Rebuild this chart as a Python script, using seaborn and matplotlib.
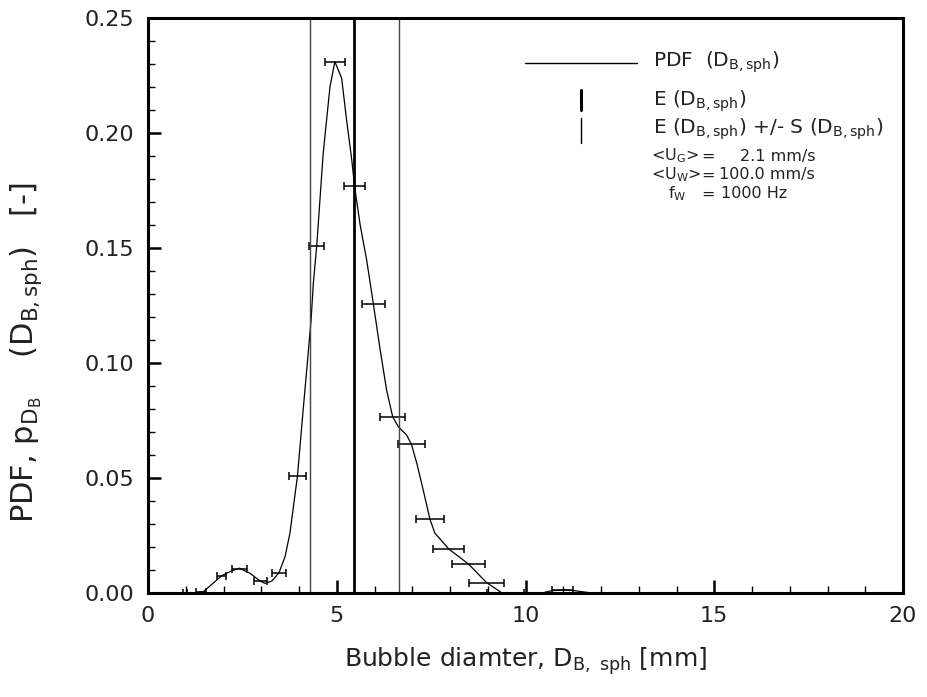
import matplotlib
matplotlib.use("Agg")
import matplotlib.pyplot as plt
import seaborn as sns
import pandas as pd

# ---- data ----
curve_x = [0.0, 1.20, 1.47, 1.95, 2.20, 2.42, 2.70, 2.97, 3.10, 3.28, 3.47, 3.63, 3.76,
           3.96, 4.11, 4.22, 4.32, 4.38, 4.47, 4.64, 4.82, 4.95, 5.13, 5.26, 5.40,
           5.47, 5.62, 5.79, 5.97, 6.15, 6.32, 6.48, 6.63, 6.85, 6.98, 7.12, 7.29,
           7.47, 7.60, 7.97, 8.49, 8.97, 9.37, 10.43, 10.70, 10.98, 11.30, 11.75]
curve_y = [0.0, 0.0, 0.0006, 0.0075, 0.0095, 0.0108, 0.0086, 0.0052, 0.0042, 0.0052,
           0.0088, 0.0158, 0.026, 0.051, 0.0796, 0.0999, 0.1187, 0.1347, 0.151, 0.191,
           0.220, 0.231, 0.2238, 0.2057, 0.188, 0.177, 0.160, 0.145, 0.1257, 0.1057,
           0.0883, 0.0767, 0.0723, 0.0687, 0.0646, 0.0564, 0.0448, 0.032, 0.026,
           0.0191, 0.0126, 0.0045, 0.0001, 0.0, 0.0010, 0.0013, 0.0010, 0.0]

bin_x = [0.97, 1.40, 1.95, 2.42, 2.97, 3.47, 3.96, 4.47, 4.95, 5.47, 5.97, 6.48,
         6.98, 7.47, 7.97, 8.49, 8.97, 9.47, 10.98]
bin_y = [0.0, 0.0004, 0.0075, 0.0103, 0.0052, 0.0088, 0.051, 0.151, 0.231, 0.177,
         0.1257, 0.0767, 0.0646, 0.032, 0.0191, 0.0126, 0.0045, 0.0, 0.0013]
bin_hw = [0.05, 0.13, 0.12, 0.20, 0.17, 0.19, 0.22, 0.20, 0.26, 0.27, 0.31, 0.33,
          0.36, 0.375, 0.41, 0.43, 0.46, 0.49, 0.28]

mean_d = 5.47
std_lo = 4.30
std_hi = 6.65

x_ticks = [0, 5, 10, 15, 20]
y_ticks = [0.00, 0.05, 0.10, 0.15, 0.20, 0.25]
y_tick_labels = ["0.00", "0.05", "0.10", "0.15", "0.20", "0.25"]

# ---- figure ----
sns.set_theme(style="white")
plt.rcParams["font.family"] = ["DejaVu Sans"]
plt.rcParams["mathtext.fontset"] = "dejavusans"
TXT = "#222222"

fig = plt.figure(figsize=(9.28, 6.97), dpi=100)
ax = fig.add_axes([148 / 928, 1 - 593 / 697, 755 / 928, 575 / 697])

df = pd.DataFrame({"x": curve_x, "y": curve_y})
sns.lineplot(data=df, x="x", y="y", ax=ax, color="black", lw=0.9, sort=False,
             estimator=None)

ax.errorbar(bin_x, bin_y, xerr=bin_hw, fmt="none", ecolor="black",
            elinewidth=1.1, capsize=2.6, capthick=1.1)

ax.axvline(mean_d, color="black", lw=2.0)
ax.axvline(std_lo, color="#444444", lw=1.0)
ax.axvline(std_hi, color="#444444", lw=1.0)

ax.set_xlim(0, 20)
ax.set_ylim(0, 0.25)
ax.set_xticks(x_ticks)
ax.set_xticks(range(0, 21), minor=True)
ax.set_yticks(y_ticks)
ax.set_yticklabels(y_tick_labels)
ax.set_yticks([i / 100 for i in range(26)], minor=True)

for s in ax.spines.values():
    s.set_color("black")
    s.set_linewidth(2.2)

ax.tick_params(axis="both", which="major", direction="in", length=9.5, width=1.8,
               color="black", labelsize=16, labelcolor=TXT,
               bottom=True, left=True, top=False, right=False)
ax.tick_params(axis="both", which="minor", direction="in", length=5, width=1.0,
               color="black", bottom=True, left=True, top=False, right=False)
ax.tick_params(axis="y", which="major", pad=10)
ax.tick_params(axis="x", which="major", pad=9)

ax.set_xlabel(r"Bubble diamter, D$_{\mathregular{B,\ sph}}$ [mm]", fontsize=18,
              color=TXT, labelpad=14)
ax.set_ylabel(r"PDF, p$_{\mathregular{D_B}}$    (D$_{\mathregular{B,sph}}$)   [-]",
              fontsize=22, color=TXT)
ax.yaxis.set_label_coords((44 - 148) / 755, (593 - 352) / 575)


def fx(px):
    return (px - 148) / 755


def fy(py):
    return (593 - py) / 575


tr = ax.transAxes
ax.plot([fx(525), fx(637)], [fy(62.7), fy(62.7)], color="black", lw=1.0,
        transform=tr, clip_on=False)
ax.plot([fx(581), fx(581)], [fy(90), fy(110)], color="black", lw=2.2,
        transform=tr, clip_on=False)
ax.plot([fx(581), fx(581)], [fy(118), fy(143)], color="black", lw=1.0,
        transform=tr, clip_on=False)

LS = 14.5
ax.text(fx(653), fy(62), r"PDF  (D$_{\mathregular{B,sph}}$)", transform=tr,
        fontsize=LS, color=TXT, va="center", ha="left")
ax.text(fx(653), fy(101), r"E (D$_{\mathregular{B,sph}}$)", transform=tr,
        fontsize=LS, color=TXT, va="center", ha="left")
ax.text(fx(653), fy(129),
        r"E (D$_{\mathregular{B,sph}}$) +/- S (D$_{\mathregular{B,sph}}$)",
        transform=tr, fontsize=LS, color=TXT, va="center", ha="left")

RS = 11.5
rows = [
    (651, r"<U$_{\mathregular{G}}$>", "2.1 mm/s", 156),
    (651, r"<U$_{\mathregular{W}}$>", "100.0 mm/s", 175),
]
for xl, name, val, yy in rows:
    ax.text(fx(xl), fy(yy), name, transform=tr, fontsize=RS, color=TXT,
            va="center", ha="left")
    ax.text(fx(708), fy(yy), "=", transform=tr, fontsize=RS, color=TXT,
            va="center", ha="center")
    ax.text(fx(815), fy(yy), val, transform=tr, fontsize=RS, color=TXT,
            va="center", ha="right")
ax.text(fx(668), fy(194), r"f$_{\mathregular{W}}$", transform=tr, fontsize=RS,
        color=TXT, va="center", ha="left")
ax.text(fx(708), fy(194), "=", transform=tr, fontsize=RS, color=TXT,
        va="center", ha="center")
ax.text(fx(721), fy(194), "1000 Hz", transform=tr, fontsize=RS, color=TXT,
        va="center", ha="left")

fig.savefig("out.png", dpi=100)
